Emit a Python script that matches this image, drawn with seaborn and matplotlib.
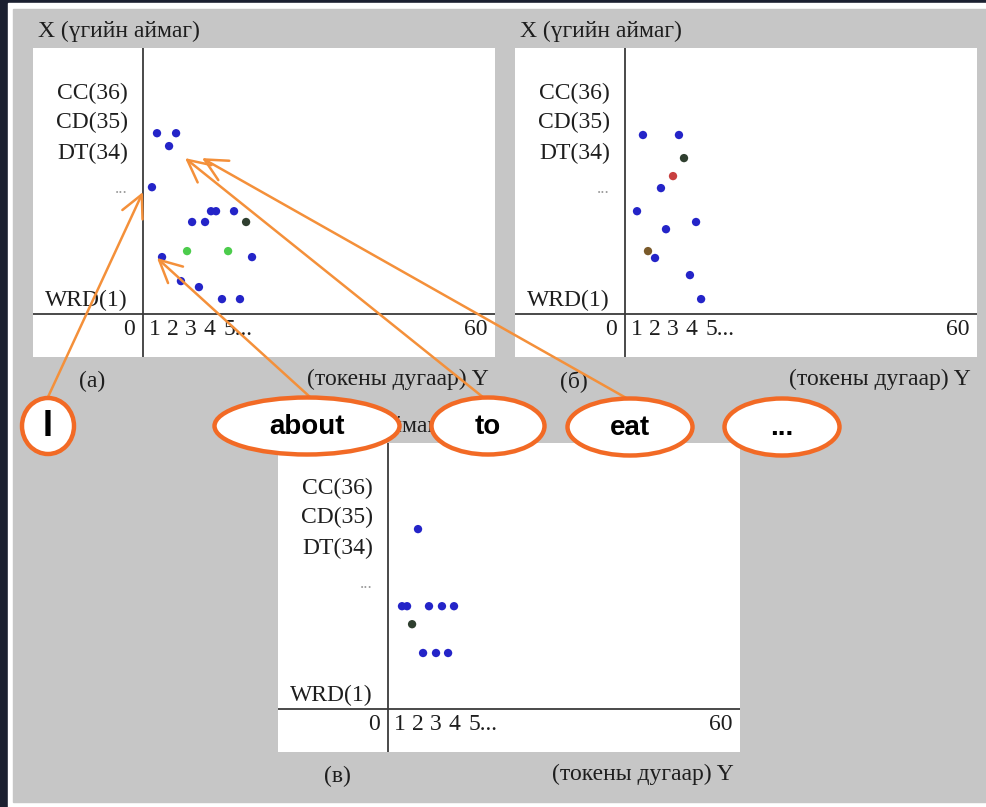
import pandas as pd
import matplotlib.pyplot as plt
from matplotlib.patches import Ellipse, Rectangle
import seaborn as sns

W, H = 987, 807

# points of panel (а): token index (x) and word-class row (y)
a_x = [1.11, 2.17, 1.78, 0.83, 4.11, 4.39, 5.39, 3.06, 3.78, 6.06, 2.78, 5.06, 1.39, 6.39, 2.44, 3.44, 4.72, 5.72]
a_y = [6.03, 6.03, 5.6, 4.23, 3.43, 3.43, 3.43, 3.07, 3.07, 3.07, 2.1, 2.1, 1.9, 1.9, 1.1, 0.9, 0.5, 0.5]
a_kind = ['blue'] * 9 + ['dark', 'green', 'green'] + ['blue'] * 6

# panel (б)
b_x = [1.33, 3.33, 3.61, 3.0, 2.33, 1.0, 4.28, 2.61, 1.61, 2.0, 3.94, 4.56]
b_y = [5.97, 5.97, 5.2, 4.6, 4.2, 3.43, 3.07, 2.83, 2.1, 1.87, 1.3, 0.5]
b_kind = ['blue', 'blue', 'dark', 'red', 'blue', 'blue', 'blue', 'blue', 'brown', 'blue', 'blue', 'blue']

# panel (в)
c_x = [2.0, 1.11, 1.39, 2.61, 3.33, 4.0, 1.67, 2.28, 3.0, 3.67]
c_y = [6.0, 3.43, 3.43, 3.43, 3.43, 3.43, 2.83, 1.87, 1.87, 1.87]
c_kind = ['blue'] * 6 + ['dark'] + ['blue'] * 3

row_labels = ['CC(36)', 'CD(35)', 'DT(34)', '...', 'WRD(1)']
row_pos = [7.37, 6.4, 5.37, 4.17, 0.47]
tick_labels = ['0', '1', '2', '3', '4', '5...', '60']
tick_pos = [-0.44, 1, 2, 3, 4, 5.6, 18.8]

words = ['I', 'about', 'to', 'eat', '...']

colors = {'blue': '#2424c8', 'green': '#4ccc4c', 'dark': '#2f3f2f',
          'red': '#c84040', 'brown': '#7a5a2a'}
orange = '#f26a25'
serif = 'Liberation Serif'
ink = '#1e1e1e'

fig = plt.figure(figsize=(W / 100, H / 100), dpi=100, facecolor='#1b2030')

# background frame (pixel coordinates, y down)
bg = fig.add_axes([0, 0, 1, 1])
bg.set_xlim(0, W)
bg.set_ylim(H, 0)
bg.axis('off')
bg.add_patch(Rectangle((8, 3), W - 8, H - 3, color='white'))
bg.add_patch(Rectangle((13, 9), W - 13, H - 14, color='#c6c6c6'))


def panel(left, top, xs, ys, kinds, tag):
    pw, ph = 462, 309
    ax = fig.add_axes([left / W, 1 - (top + ph) / H, pw / W, ph / H])
    ax.set_facecolor('white')
    for s in ax.spines.values():
        s.set_visible(False)
    ax.set_xlim(-5.78, 19.89)
    ax.set_ylim(-1.43, 8.87)
    ax.axvline(0.33, color='#3a3a3a', lw=1.3)
    ax.axhline(0, color='#3a3a3a', lw=1.3)
    df = pd.DataFrame({'x': xs, 'y': ys, 'kind': kinds})
    sns.scatterplot(data=df, x='x', y='y', hue='kind', palette=colors, s=36,
                    edgecolor='none', legend=False, ax=ax, zorder=3)
    ax.set_xticks([])
    ax.set_yticks([])
    ax.set_xlabel('')
    ax.set_ylabel('')
    for lab, pos in zip(row_labels, row_pos):
        if lab == '...':
            ax.text(-0.5, pos, lab, ha='right', va='center', fontsize=12,
                    color='#9a9a9a', family=serif)
        else:
            ax.text(-0.5, pos, lab, ha='right', va='center', fontsize=17,
                    color=ink, family=serif)
    for lab, pos in zip(tick_labels, tick_pos):
        ax.text(pos, -0.5, lab, ha='center', va='center', fontsize=17,
                color=ink, family=serif)
    # titles live on the background layer so bubbles can cover them
    bg.text(left + 5, top - 17, 'X (үгийн аймаг)', ha='left', va='center',
            fontsize=17, color=ink, family=serif)
    bg.text(left + 59, top + ph + 24, tag, ha='center', va='center',
            fontsize=17, color=ink, family=serif)
    bg.text(left + 456, top + ph + 22, '(токены дугаар) Y', ha='right',
            va='center', fontsize=17, color=ink, family=serif)
    return ax


ax_a = panel(33, 48, a_x, a_y, a_kind, '(а)')
ax_b = panel(515, 48, b_x, b_y, b_kind, '(б)')
ax_c = panel(278, 443, c_x, c_y, c_kind, '(в)')

# overlay with word bubbles and arrows
ov = fig.add_axes([0, 0, 1, 1])
ov.set_xlim(0, W)
ov.set_ylim(H, 0)
ov.axis('off')

arrow_tips = [(0.33, 4.07), (1.11, 1.87), (2.67, 5.2), (3.61, 5.2)]
arrow_tails = [(48, 397), (310, 397), (484, 398), (628, 399)]
for tip, tail in zip(arrow_tips, arrow_tails):
    ov.annotate('', xy=tip, xycoords=ax_a.transData, xytext=tail, textcoords='data',
                arrowprops=dict(arrowstyle='->,head_length=0.8,head_width=0.4',
                                color='#f4903a', lw=1.8, mutation_scale=20,
                                shrinkA=0, shrinkB=0))

bubbles = [(48, 426, 52, 56), (307, 426, 185, 57), (488, 426, 113, 57),
           (630, 427, 125, 57), (782, 427, 115, 57)]
for word, (cx, cy, w, h) in zip(words, bubbles):
    ov.add_patch(Ellipse((cx, cy), w, h, facecolor='white', edgecolor=orange,
                         lw=3.2, zorder=5))
    ov.text(cx, cy + 1, word, ha='center', va='center', fontsize=26 if word == 'I' else 20,
            fontweight='bold', family='Liberation Sans', color='black', zorder=6)

fig.savefig('out.png', dpi=100, facecolor=fig.get_facecolor())
